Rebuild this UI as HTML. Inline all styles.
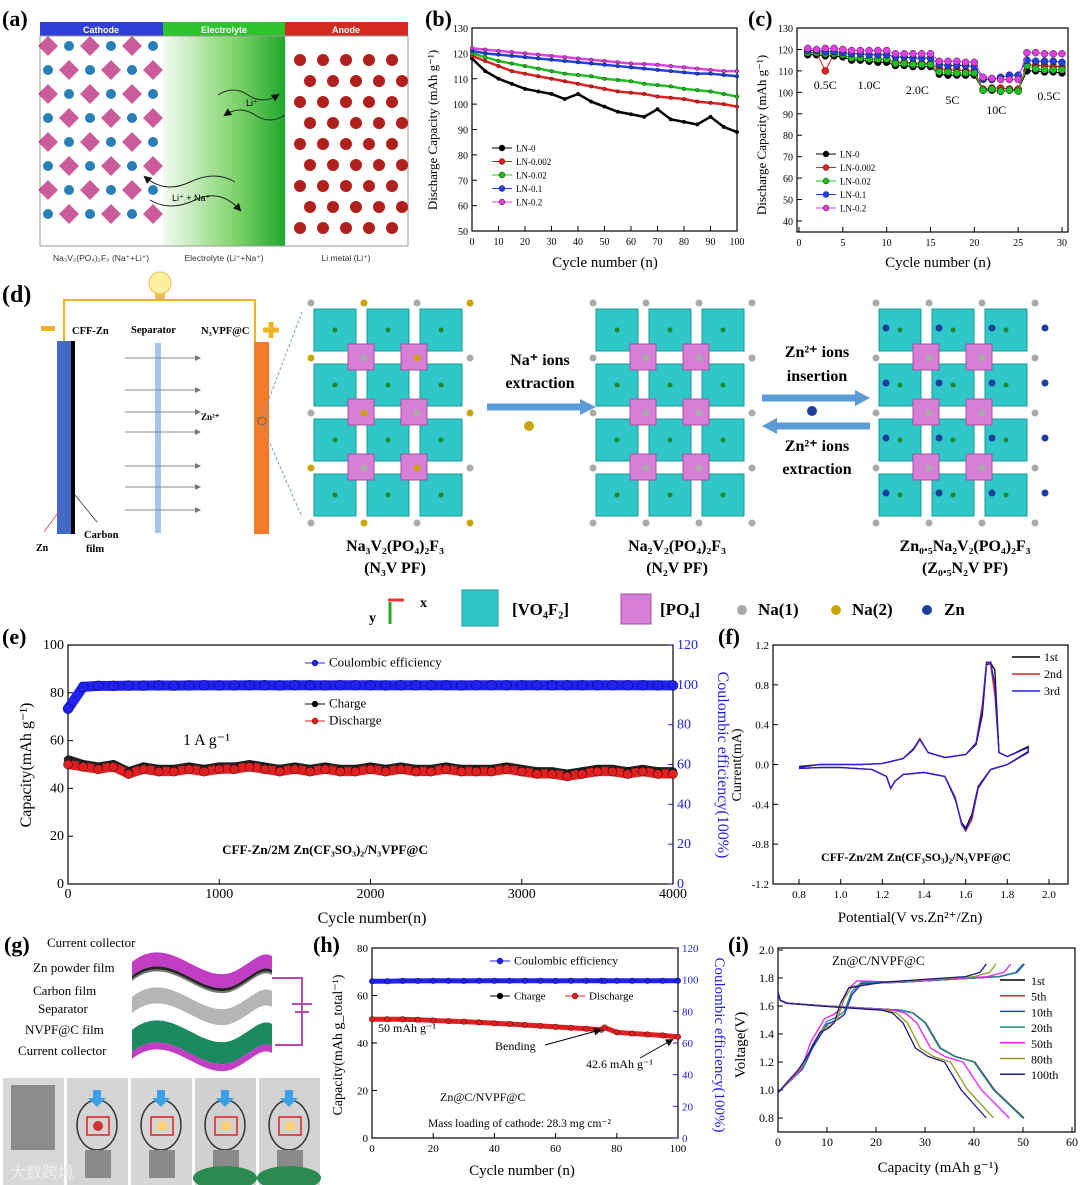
<!DOCTYPE html>
<html><head><meta charset="utf-8">
<style>
html,body{margin:0;padding:0;background:#fff}
svg{display:block;font-family:"Liberation Serif",serif}
.s{font-family:"Liberation Sans",sans-serif}
</style></head>
<body>
<svg id="fig" width="1080" height="1185" viewBox="0 0 1080 1185" xmlns="http://www.w3.org/2000/svg">
<defs>
<linearGradient id="gElec" x1="0" x2="1"><stop offset="0" stop-color="#f4fbf2"/><stop offset="0.6" stop-color="#7fd36a"/><stop offset="1" stop-color="#1fa82c"/></linearGradient>
<marker id="arr" markerWidth="6" markerHeight="6" refX="5" refY="3" orient="auto"><path d="M0,0L6,3L0,6z" fill="#777"/></marker>
<marker id="arrB" markerWidth="8" markerHeight="8" refX="6" refY="4" orient="auto"><path d="M0,0L8,4L0,8z" fill="#111"/></marker>
<marker id="arrY" markerWidth="6" markerHeight="6" refX="5" refY="3" orient="auto"><path d="M0,0L6,3L0,6z" fill="#f0a020"/></marker>
</defs>
<!-- panel a -->
<g>
<text x="2" y="26" font-size="22" font-weight="bold">(a)</text>
<rect x="40" y="22" width="123" height="14" fill="#2f3fd8"/>
<rect x="163" y="22" width="122" height="14" fill="#2ec42e"/>
<rect x="285" y="22" width="123" height="14" fill="#d42a22"/>
<text x="101" y="33" font-size="9" fill="#fff" text-anchor="middle" class="s" font-weight="bold">Cathode</text>
<text x="224" y="33" font-size="9" fill="#fff" text-anchor="middle" class="s" font-weight="bold">Electrolyte</text>
<text x="346" y="33" font-size="9" fill="#fff" text-anchor="middle" class="s" font-weight="bold">Anode</text>
<rect x="163" y="36" width="122" height="210" fill="url(#gElec)"/>
<rect x="40" y="36" width="368" height="210" fill="none" stroke="#999"/>
<g id="cathodeAtoms"></g>
<g id="anodeAtoms"></g>
<path d="M218,95 q15,-10 30,0 t30,0" fill="none" stroke="#222" marker-end="url(#arrB)"/>
<path d="M285,115 q-15,10 -30,0 t-30,0" fill="none" stroke="#222" marker-end="url(#arrB)"/>
<text x="246" y="106" font-size="9" class="s">Li⁺</text>
<path d="M235,182 q-20,-12 -45,0 t-45,-5" fill="none" stroke="#222" marker-end="url(#arrB)"/>
<path d="M150,200 q20,12 45,0 t45,10" fill="none" stroke="#222" marker-end="url(#arrB)"/>
<text x="172" y="201" font-size="9" class="s">Li⁺ + Na⁺</text>
<text x="101" y="261" font-size="8.5" class="s" text-anchor="middle" fill="#333">Na₃V₂(PO₄)₂F₃ (Na⁺+Li⁺)</text>
<text x="224" y="261" font-size="8.5" class="s" text-anchor="middle" fill="#333">Electrolyte (Li⁺+Na⁺)</text>
<text x="346" y="261" font-size="8.5" class="s" text-anchor="middle" fill="#333">Li metal (Li⁺)</text>
</g>
<!-- panel labels -->
<text x="425" y="26" font-size="22" font-weight="bold">(b)</text>
<text x="748" y="26" font-size="22" font-weight="bold">(c)</text>
<text x="2" y="302" font-size="24" font-weight="bold">(d)</text>
<text x="2" y="644" font-size="22" font-weight="bold">(e)</text>
<text x="718" y="644" font-size="22" font-weight="bold">(f)</text>
<text x="4" y="952" font-size="22" font-weight="bold">(g)</text>
<text x="313" y="952" font-size="22" font-weight="bold">(h)</text>
<text x="728" y="952" font-size="22" font-weight="bold">(i)</text>
<!-- panel d -->
<g>
<path d="M64,345 V300 H255 V345" fill="none" stroke="#f1b321" stroke-width="2"/>
<circle cx="160" cy="283" r="11" fill="#fbf0a0" stroke="#e8c050"/>
<rect x="155" y="293" width="10" height="6" fill="#e8c050"/>
<rect x="41" y="326" width="14" height="5" fill="#f1b321"/>
<path d="M263,330h16M271,322v16" stroke="#f1b321" stroke-width="5"/>
<text x="72" y="334" font-size="10.5" font-weight="bold">CFF-Zn</text>
<text x="131" y="333" font-size="10.5" font-weight="bold">Separator</text>
<text x="201" y="334" font-size="10.5" font-weight="bold">N₃VPF@C</text>
<rect x="57" y="341" width="14" height="193" fill="#4169c8"/>
<rect x="71" y="341" width="4" height="193" fill="#000"/>
<rect x="155" y="343" width="6" height="190" fill="#a8c6ec"/>
<rect x="254" y="342" width="15" height="192" fill="#f47b2a"/>
<g id="znArrows"></g>
<text x="201" y="420" font-size="9" font-weight="bold">Zn²⁺</text>
<circle cx="262" cy="421" r="4" fill="none" stroke="#666"/>
<path d="M262,417 L302,312 M262,425 L302,517" stroke="#7a9abf" stroke-dasharray="3,2" fill="none"/>
<line x1="60" y1="510" x2="44" y2="532" stroke="#d33" stroke-width="0.7"/>
<line x1="75" y1="495" x2="97" y2="522" stroke="#222" stroke-width="0.7"/>
<text x="36" y="551" font-size="10" font-weight="bold">Zn</text>
<text x="84" y="538" font-size="10.5" font-weight="bold">Carbon</text>
<text x="86" y="552" font-size="10.5" font-weight="bold">film</text>
<g id="lattices"></g>
<text x="395" y="551" font-size="16" font-weight="bold" text-anchor="middle">Na₃V₂(PO₄)₂F₃</text>
<text x="395" y="573" font-size="16" font-weight="bold" text-anchor="middle">(N₃V PF)</text>
<text x="677" y="551" font-size="16" font-weight="bold" text-anchor="middle">Na₂V₂(PO₄)₂F₃</text>
<text x="677" y="573" font-size="16" font-weight="bold" text-anchor="middle">(N₂V PF)</text>
<text x="965" y="551" font-size="16" font-weight="bold" text-anchor="middle">Zn₀.₅Na₂V₂(PO₄)₂F₃</text>
<text x="965" y="573" font-size="16" font-weight="bold" text-anchor="middle">(Z₀.₅N₂V PF)</text>
<text x="540" y="365" font-size="16" font-weight="bold" text-anchor="middle">Na⁺ ions</text>
<text x="540" y="388" font-size="16" font-weight="bold" text-anchor="middle">extraction</text>
<path d="M487,407 H583" stroke="#5b9bd5" stroke-width="7"/>
<path d="M580,399 L596,407 L580,415z" fill="#5b9bd5"/>
<circle cx="529" cy="426" r="5" fill="#c9a40a"/>
<text x="817" y="357" font-size="16" font-weight="bold" text-anchor="middle">Zn²⁺ ions</text>
<text x="817" y="381" font-size="16" font-weight="bold" text-anchor="middle">insertion</text>
<path d="M762,398 H857" stroke="#5b9bd5" stroke-width="7"/>
<path d="M855,390 L870,398 L855,406z" fill="#5b9bd5"/>
<circle cx="812" cy="411" r="5" fill="#1f3f9c"/>
<path d="M775,426 H870" stroke="#5b9bd5" stroke-width="7"/>
<path d="M777,418 L762,426 L777,434z" fill="#5b9bd5"/>
<text x="817" y="451" font-size="16" font-weight="bold" text-anchor="middle">Zn²⁺ ions</text>
<text x="817" y="474" font-size="16" font-weight="bold" text-anchor="middle">extraction</text>
<g>
<path d="M388,600 H404" stroke="#e33" stroke-width="3"/>
<path d="M390,602 V624" stroke="#2a2" stroke-width="3"/>
<text x="420" y="607" font-size="14" font-weight="bold">x</text>
<text x="369" y="622" font-size="14" font-weight="bold">y</text>
<rect x="462" y="590" width="36" height="36" fill="#2fc7c7" stroke="#1a9a9a"/>
<text x="512" y="615" font-size="17" font-weight="bold">[VO₄F₂]</text>
<rect x="621" y="594" width="30" height="30" fill="#d77ed6" stroke="#a050a0"/>
<text x="660" y="615" font-size="17" font-weight="bold">[PO₄]</text>
<circle cx="742" cy="610" r="5" fill="#aaa"/>
<text x="758" y="615" font-size="17" font-weight="bold">Na(1)</text>
<circle cx="836" cy="610" r="5" fill="#c9a40a"/>
<text x="852" y="615" font-size="17" font-weight="bold">Na(2)</text>
<circle cx="927" cy="610" r="5" fill="#1f3f9c"/>
<text x="944" y="615" font-size="17" font-weight="bold">Zn</text>
</g>
</g>
<!-- panel g -->
<g>
<g id="waves"></g>
<path d="M272,978 H302 V1045 H275" fill="none" stroke="#b44cb0" stroke-width="2"/>
<path d="M292,1004 h20 M295,1012 h14" stroke="#b44cb0" stroke-width="2"/>
<text x="47" y="947" font-size="13">Current collector</text>
<text x="33" y="972" font-size="13">Zn powder film</text>
<text x="33" y="995" font-size="13">Carbon film</text>
<text x="38" y="1013" font-size="13">Separator</text>
<text x="25" y="1034" font-size="13">NVPF@C film</text>
<text x="18" y="1055" font-size="13">Current collector</text>
<g id="photos"></g>
</g>
<g id="charts"></g>
</svg>
<script>
// ---------- data ----------
const bCycles=[0,5,10,15,20,25,30,35,40,45,50,55,60,65,70,75,80,85,90,95,100];
const bLN0=[118,113,110,108,106,105,104,102,104,101,99,97,96,95,98,94,93,92,95,91,89];
const bLN0002=[119,117,115,113,112,111,110,109,108,107,106,105,104.5,104,103,102.5,102,101,100.5,100,99];
const bLN002=[120,118.5,117,116,115,114,113,112,111.5,111,110,109.5,109,108,107.5,107,106,105.5,105,104,103];
const bLN01=[121,120,119.5,119,118.5,118,117.5,117,116.5,116,115.5,115,114.5,114,113.5,113,112.5,112,112,111.5,111];
const bLN02=[122,121.5,121,120.5,120,119.5,119,118.5,118,117.5,117,116.5,116,115.8,115.5,115,114.5,114,113.5,113,113];
const bNames=["LN-0","LN-0.002","LN-0.02","LN-0.1","LN-0.2"];
const cCycles=[1,2,3,4,5,6,7,8,9,10,11,12,13,14,15,16,17,18,19,20,21,22,23,24,25,26,27,28,29,30];
const cLN0=[117.5,117.5,117,117,116.5,115,115,114.5,114,114,112.5,112.5,112,112,112,108.5,108,108,108,108,101,101,100.5,101,101,110,110,109.5,109.5,109];
const cLN0002=[118.5,118.5,110,118,117.5,116,116,115.5,115.5,115.5,114,114,113.5,113.5,113.5,111,110.5,110.5,110,110,101.5,102,102,101.5,101.5,113,112.5,112.5,112,112];
const cLN002=[118.5,118.5,118,118,117.5,116,116,115.5,115.5,115.5,113.5,113.5,113,113,113,109.5,109.5,109,109,109,101,101.5,100.5,101,100.5,112.5,111,110.5,110.5,110.5];
const cLN01=[119.5,119.5,119,119,118.5,118,118,117.5,117.5,117.5,116.5,116.5,116,116,116,113,112.5,112.5,112.5,112,106,106,107,108,108,115,114.5,114.5,114.5,114];
const cLN02=[120.5,120,120.5,120.5,120,119.5,119.5,119.5,119.5,119.5,118,118,118,118,118,114.5,114.5,114.5,114,114,107,106.5,106,106,106,118.5,118.5,118,118,118];
const cRateLabels=["0.5C","1.0C","2.0C","5C","10C","0.5C"];
const eCycles=[0,100,200,300,400,500,600,700,800,900,1000,1100,1200,1300,1400,1500,1600,1700,1800,1900,2000,2100,2200,2300,2400,2500,2600,2700,2800,2900,3000,3100,3200,3300,3400,3500,3600,3700,3800,3900,4000];
const eCharge=[52,50,49,50,47,49,48,48,49,48,49,49,50,49,48,49,48,49,48,48,49,48,49,48,48,49,48,48,48,49,48,47,47,46,47,48,48,47,48,47,47];
const eDischarge=[50,49,48,49,46,48,47,47,48,47,48,48,49,48,47,48,47,48,47,47,48,47,48,47,47,48,47,47,47,48,47,46,46,45,46,47,47,46,47,46,46];
const eCE=[88,99,99.5,99.5,99.6,99.6,99.7,99.6,99.7,99.8,99.7,99.7,99.8,99.8,99.7,99.8,99.8,99.7,99.8,99.8,99.8,99.7,99.8,99.8,99.8,99.8,99.7,99.8,99.8,99.8,99.8,99.8,99.8,99.8,99.8,99.8,99.8,99.8,99.8,99.7,99.7];
const fV=[0.8,0.9,1.0,1.1,1.2,1.3,1.35,1.38,1.42,1.5,1.6,1.65,1.68,1.70,1.72,1.74,1.76,1.8,1.9,1.9,1.8,1.72,1.66,1.63,1.6,1.58,1.55,1.5,1.4,1.3,1.26,1.24,1.22,1.15,1.0,0.9,0.8];
const fI1=[-0.02,0.0,0.0,0.0,0.01,0.06,0.16,0.26,0.12,0.07,0.1,0.2,0.5,1.0,1.02,0.95,0.12,0.08,0.18,0.13,0.0,-0.05,-0.22,-0.5,-0.64,-0.58,-0.35,-0.12,-0.08,-0.1,-0.17,-0.24,-0.12,-0.05,-0.03,-0.03,-0.04];
const fI2=[-0.03,0.0,0.0,0.0,0.01,0.06,0.15,0.26,0.12,0.07,0.1,0.22,0.6,1.03,1.0,0.7,0.12,0.08,0.17,0.12,0.0,-0.05,-0.24,-0.55,-0.67,-0.6,-0.33,-0.12,-0.08,-0.1,-0.17,-0.24,-0.12,-0.05,-0.03,-0.03,-0.04];
const fI3=[-0.03,0.0,0.0,0.0,0.01,0.06,0.15,0.25,0.12,0.07,0.1,0.21,0.55,1.02,1.03,0.8,0.12,0.08,0.17,0.12,0.0,-0.05,-0.23,-0.52,-0.66,-0.59,-0.34,-0.12,-0.08,-0.1,-0.17,-0.24,-0.12,-0.05,-0.03,-0.03,-0.04];
const hCycles=[0,5,10,15,20,25,30,35,40,45,50,55,60,65,70,75,76,80,85,90,95,100];
const hCap=[50,50,50,49.8,49.5,49.2,49,48.7,48.3,48,47.6,47.2,46.8,46.4,46,45.6,46.5,44.5,44,43.6,43.2,42.6];
const hCE=[99,99,99.2,99.2,99.3,99.3,99.2,99.3,99.3,99.3,99.3,99.3,99.2,99.3,99.3,99.3,99.2,99.3,99.3,99.3,99.3,99.3];
const iLabels=["1st","5th","10th","20th","50th","80th","100th"];
const iChgCap=[50.2,50.1,50.3,50,47.5,44.5,42.5];
const iDisCap=[50.2,50.1,50,50,47.2,44,42.5];
const iChgFrac=[0,0.04,0.1,0.14,0.2,0.24,0.27,0.3,0.34,0.5,0.7,0.9,0.97,1];
const iChgV=[0.98,1.05,1.15,1.3,1.47,1.5,1.54,1.68,1.76,1.77,1.79,1.81,1.84,1.9];
const iDisFrac=[0,0.01,0.04,0.2,0.4,0.5,0.55,0.6,0.66,0.72,0.8,0.88,1];
const iDisV=[1.7,1.64,1.62,1.6,1.58,1.57,1.55,1.48,1.3,1.24,1.2,1.0,0.8];
const iShift=[0,0,0,0.02,0.04,-0.04,-0.06];

const NS="http://www.w3.org/2000/svg";
const root=document.getElementById('charts');
function mk(tag,attrs,parent){const el=document.createElementNS(NS,tag);for(const k in attrs)el.setAttribute(k,attrs[k]);(parent||root).appendChild(el);return el;}
function lin(d0,d1,r0,r1){return v=>r0+(v-d0)*(r1-r0)/(d1-d0);}
function txt(x,y,s,size,nm,extra,parent){const t=mk('text',Object.assign({x:x,y:y,'font-size':size},extra||{}),parent);t.textContent=s;


return t;}
function frame(x0,y0,x1,y1,nm){const r=mk('rect',{x:x0,y:y0,width:x1-x0,height:y1-y0,fill:'none',stroke:'#000','stroke-width':1.2});

}
function yTicks(sy,vals,x,side,fmt,size,color,nm){vals.forEach(v=>{const y=sy(v);const l=mk('line',{x1:x,x2:x+(side<0?5:-5),y1:y,y2:y,stroke:color||'#000'});


txt(side<0?x-4:x+4,y+4,fmt(v),size,nm+'-label',{'text-anchor':side<0?'end':'start',fill:color||'#000'});});}
function xTicks(sx,vals,y,fmt,size,nm){vals.forEach(v=>{const x=sx(v);const l=mk('line',{x1:x,x2:x,y1:y,y2:y-5,stroke:'#000'});


txt(x,y+14,fmt(v),size,nm+'-label',{'text-anchor':'middle'});});}
function line(xs,ys,sx,sy,color,w,nm){const p=mk('polyline',{points:xs.map((x,i)=>sx(x)+','+sy(ys[i])).join(' '),fill:'none',stroke:color,'stroke-width':w||1.2});

}
function dots(xs,ys,sx,sy,color,r,nm){xs.forEach((x,i)=>{const c=mk('circle',{cx:sx(x),cy:sy(ys[i]),r:r,fill:color,stroke:'#000','stroke-width':0.4});

});}
function legendDot(x,y,color,label,size,nm){const l=mk('line',{x1:x-10,x2:x+10,y1:y,y2:y,stroke:color});


const c=mk('circle',{cx:x,cy:y,r:3,fill:color,stroke:'#000','stroke-width':0.4});


txt(x+14,y+3.5,label,size,nm,{});}
const cols5=['#000','#e02020','#20c020','#2040e0','#e040e0'];
const dec=v=>v.toFixed(0);

// ---------- panel b ----------
{const sx=lin(0,100,472,737),sy=lin(50,130,231,28);
frame(472,28,737,231,'b-plot-frame');
yTicks(sy,[50,60,70,80,90,100,110,120,130],472,-1,dec,10,null,'b-y-tick');
xTicks(sx,[0,10,20,30,40,50,60,70,80,90,100],231,dec,10,'b-x-tick');
[bLN0,bLN0002,bLN002,bLN01,bLN02].forEach((s,k)=>{line(bCycles,s,sx,sy,cols5[k],2.5,'b-series-'+bNames[k]);dots(bCycles,s,sx,sy,cols5[k],1.8,'b-point');});
bNames.forEach((n,k)=>legendDot(502,148+k*13.5,cols5[k],n,9,'b-legend-'+k));
txt(437,130,'Discharge Capacity (mAh g⁻¹)',13,'b-y-title',{'text-anchor':'middle',transform:'rotate(-90 437 130)'});
txt(605,267,'Cycle number (n)',15,'b-x-title',{'text-anchor':'middle'});}
// ---------- panel c ----------
{const sx=lin(0,30,799,1062),sy=lin(40,130,221,28);
frame(797,28,1068,232,'c-plot-frame');
yTicks(sy,[40,50,60,70,80,90,100,110,120,130],797,-1,dec,10,null,'c-y-tick');
xTicks(sx,[0,5,10,15,20,25,30],232,dec,10,'c-x-tick');
[cLN0,cLN0002,cLN002,cLN01,cLN02].forEach((s,k)=>{line(cCycles,s,sx,sy,cols5[k],1,'c-series-'+bNames[k]);dots(cCycles,s,sx,sy,cols5[k],3.5,'c-point');});
bNames.forEach((n,k)=>legendDot(826,154+k*13.5,cols5[k],n,9,'c-legend-'+k));
const lp=[[3,82],[8,82],[13.5,87],[17.5,97],[22.5,107],[28.5,93]];
cRateLabels.forEach((l,k)=>txt(sx(lp[k][0]),lp[k][1]+7,l,12,'c-rate-label',{'text-anchor':'middle'}));
txt(766,135,'Discharge Capacity (mAh g⁻¹)',13,'c-y-title',{'text-anchor':'middle',transform:'rotate(-90 766 135)'});
txt(938,267,'Cycle number (n)',15,'c-x-title',{'text-anchor':'middle'});}
// ---------- panel e ----------
{const sx=lin(0,4000,68,673),sy=lin(0,100,884,645),sr=lin(0,120,884,645);
frame(68,645,673,884,'e-plot-frame');
yTicks(sy,[0,20,40,60,80,100],68,-1,dec,14,null,'e-y-tick');
yTicks(sr,[0,20,40,60,80,100,120],673,1,dec,14,'#2020e0','e-y2-tick');
xTicks(sx,[0,1000,2000,3000,4000],884,dec,14,'e-x-tick');
line(eCycles,eCharge,sx,sy,'#222',9,'e-charge-band');
line(eCycles,eDischarge,sx,sy,'#e02020',9,'e-discharge-band');
dots(eCycles,eCharge,sx,sy,'#222',4,'e-charge-point');
dots(eCycles,eDischarge,sx,sy,'#e02020',4.5,'e-discharge-point');
line(eCycles,eCE,sx,sr,'#2020f0',10,'e-ce-band');
dots(eCycles,eCE,sx,sr,'#2020f0',5,'e-ce-point');
legendDot(315,663,'#2020f0','Coulombic efficiency',13,'e-legend-ce');
legendDot(315,704,'#000','Charge',13,'e-legend-charge');
legendDot(315,721,'#e02020','Discharge',13,'e-legend-discharge');
txt(183,745,'1 A g⁻¹',16,'e-rate-label',{});
txt(325,854,'CFF-Zn/2M Zn(CF₃SO₃)₂/N₃VPF@C',13,'e-cell-label',{'text-anchor':'middle','font-weight':'bold'});
txt(31,765,'Capacity(mAh g⁻¹)',16,'e-y-title',{'text-anchor':'middle',transform:'rotate(-90 31 765)'});
txt(718,765,'Coulombic efficiency(100%)',16,'e-y2-title',{'text-anchor':'middle',fill:'#2020e0',transform:'rotate(90 718 765)'});
txt(372,923,'Cycle number(n)',16,'e-x-title',{'text-anchor':'middle'});}
// ---------- panel f ----------
{const sx=lin(0.8,2.0,799,1049),sy=lin(-1.2,1.2,884,645);
frame(773,645,1068,884,'f-plot-frame');
yTicks(sy,[-1.2,-0.8,-0.4,0.0,0.4,0.8,1.2],773,-1,v=>v.toFixed(1),11,null,'f-y-tick');
xTicks(sx,[0.8,1.0,1.2,1.4,1.6,1.8,2.0],884,v=>v.toFixed(1),11,'f-x-tick');
line(fV,fI1,sx,sy,'#000',1.3,'f-cv-1st');line(fV,fI2,sx,sy,'#e02020',1.3,'f-cv-2nd');line(fV,fI3,sx,sy,'#2020e0',1.3,'f-cv-3rd');
[['1st','#000'],['2nd','#e02020'],['3rd','#2020e0']].forEach((e,k)=>{const l=mk('line',{x1:1012,x2:1040,y1:657+k*17,y2:657+k*17,stroke:e[1],'stroke-width':1.5});


txt(1044,661+k*17,e[0],12,'f-legend-'+e[0],{});});
txt(916,861,'CFF-Zn/2M Zn(CF₃SO₃)₂/N₃VPF@C',12,'f-cell-label',{'text-anchor':'middle','font-weight':'bold'});
txt(741,765,'Current(mA)',14,'f-y-title',{'text-anchor':'middle',transform:'rotate(-90 741 765)'});
txt(910,922,'Potential(V vs.Zn²⁺/Zn)',15,'f-x-title',{'text-anchor':'middle'});}
// ---------- panel h ----------
{const sx=lin(0,100,372,678),sy=lin(0,80,1138,948),sr=lin(0,120,1138,948);
frame(372,948,678,1138,'h-plot-frame');
yTicks(sy,[0,20,40,60,80],372,-1,dec,11,null,'h-y-tick');
yTicks(sr,[0,20,40,60,80,100,120],678,1,dec,11,'#2020e0','h-y2-tick');
xTicks(sx,[0,20,40,60,80,100],1138,dec,11,'h-x-tick');
line(hCycles,hCap,sx,sy,'#e02020',5,'h-capacity-band');
dots(hCycles,hCap,sx,sy,'#e02020',2.8,'h-capacity-point');
line(hCycles,hCE,sx,sr,'#2020f0',5,'h-ce-band');
dots(hCycles,hCE,sx,sr,'#2020f0',2.8,'h-ce-point');
legendDot(500,961,'#2020f0','Coulombic efficiency',12,'h-legend-ce');
legendDot(500,996,'#000','Charge',11,'h-legend-charge');
legendDot(575,996,'#e02020','Discharge',11,'h-legend-discharge');
txt(378,1032,'50 mAh g⁻¹',12,'h-start-annot',{});
txt(495,1050,'Bending',12,'h-bending-annot',{});
txt(586,1068,'42.6 mAh g⁻¹',12,'h-end-annot',{});
const a1=mk('path',{d:'M545,1045 L600,1030',stroke:'#000',fill:'none','marker-end':'url(#arrB)'});


const a2=mk('path',{d:'M640,1058 L672,1040',stroke:'#000',fill:'none','marker-end':'url(#arrB)'});


txt(440,1101,'Zn@C/NVPF@C',12,'h-cell-label',{});
txt(428,1127,'Mass loading of cathode: 28.3 mg cm⁻²',11.5,'h-loading-label',{});
txt(342,1045,'Capacity(mAh g_total⁻¹)',14,'h-y-title',{'text-anchor':'middle',transform:'rotate(-90 342 1045)'});
txt(715,1045,'Coulombic efficiency(100%)',15,'h-y2-title',{'text-anchor':'middle',fill:'#2020e0',transform:'rotate(90 715 1045)'});
txt(522,1175,'Cycle number (n)',15,'h-x-title',{'text-anchor':'middle'});}
// ---------- panel i ----------
{const sx=lin(0,60,778,1072),sy=lin(0.7,2.0,1132,950);
frame(778,948,1075,1132,'i-plot-frame');
yTicks(sy,[0.8,1.0,1.2,1.4,1.6,1.8,2.0],778,-1,v=>v.toFixed(1),12,null,'i-y-tick');
xTicks(sx,[0,10,20,30,40,50,60],1132,dec,12,'i-x-tick');
const ic=['#000','#e02020','#2040e0','#20908a','#f020f0','#9a9a20','#1a1a8a'];
iLabels.forEach((n,k)=>{
line(iChgFrac.map(f=>f*iChgCap[k]),iChgV.map((v,j)=>v+(j>2&&j<9?iShift[k]*(j<8?1:0.5):0)),sx,sy,ic[k],1.3,'i-charge-'+n);
line(iDisFrac.map(f=>f*iDisCap[k]),iDisV,sx,sy,ic[k],1.3,'i-discharge-'+n);
const l=mk('line',{x1:1000,x2:1025,y1:980+k*15.7,y2:980+k*15.7,stroke:ic[k],'stroke-width':1.5});


txt(1031,985+k*15.7,n,12,'i-legend-'+n,{});});
txt(832,965,'Zn@C/NVPF@C',13,'i-cell-label',{});
txt(745,1045,'Voltage(V)',15,'i-y-title',{'text-anchor':'middle',transform:'rotate(-90 745 1045)'});
txt(938,1172,'Capacity (mAh g⁻¹)',15,'i-x-title',{'text-anchor':'middle'});}

// ---------- schematic decorations ----------
{const g=document.getElementById('cathodeAtoms');
for(let r=0;r<8;r++)for(let c=0;c<6;c++){const x=48+c*21,y=46+r*24;
if((r+c)%2===0){const d=mk('path',{d:`M${x},${y-10}L${x+10},${y}L${x},${y+10}L${x-10},${y}z`,fill:'#c2408a',opacity:0.85},g);

}
else{const c1=mk('circle',{cx:x,cy:y,r:5,fill:'#2a7fb8'},g);

}}
const a=document.getElementById('anodeAtoms');
for(let r=0;r<9;r++)for(let c=0;c<5;c++){const x=300+c*23+(r%2)*10,y=60+r*21;
const c2=mk('circle',{cx:x,cy:y,r:6,fill:'#b0201c'},a);

}
const za=document.getElementById('znArrows');
[358,390,412,432,466,487,510].forEach((y,k)=>{const l=mk('line',{x1:125,x2:200,y1:y,y2:y,stroke:'#888','marker-end':'url(#arr)'},za);

});
const L=document.getElementById('lattices');
[[335,'#c9a40a',1],[617,'#aaa',0],[900,'#1f3f9c',2]].forEach(([x0,ion,kind])=>{
for(let r=0;r<4;r++)for(let c=0;c<3;c++){const cx=x0+c*53,cy=330+r*55;
const s=mk('rect',{x:cx-21,y:cy-21,width:42,height:42,fill:'#2fc7c7',stroke:'#1a9a9a'},L);


const cc=mk('circle',{cx:cx,cy:cy,r:2.5,fill:'#1a8a2a'},L);

}
for(let r=0;r<3;r++)for(let c=0;c<2;c++){const cx=x0+26+c*53,cy=357+r*55;
const s=mk('rect',{x:cx-13,y:cy-13,width:26,height:26,fill:'#d77ed6',stroke:'#a050a0'},L);

}
for(let r=0;r<5;r++)for(let c=0;c<4;c++){const cx=x0-24+c*53,cy=303+r*55;
const b=mk('circle',{cx:cx,cy:cy,r:3.5,fill:(kind===1&&(r+c)%2)?ion:'#aaa'},L);


if(kind===2&&r<4){const z=mk('circle',{cx:cx+10,cy:cy+25,r:3.5,fill:ion},L);

}}});
// wavy layers
const W=document.getElementById('waves');
function wavePath(x0,y,t){
const top=`M${x0},${y} C${x0+40},${y-32} ${x0+70},${y+28} ${x0+105},${y+8} C${x0+120},${y} ${x0+130},${y-12} ${x0+140},${y-6}`;
const bot=`L${x0+140},${y-6+t} C${x0+130},${y-12+t} ${x0+120},${y+t} ${x0+105},${y+8+t} C${x0+70},${y+28+t} ${x0+40},${y-32+t} ${x0},${y+t} Z`;
return top+bot;}
[[132,962,14,'#c13ec4','top-current-collector'],[132,976,3,'#222','zn-powder-film'],[132,979,2,'#777','carbon-film-layer'],[132,997,16,'#b5b5b5','separator-layer'],[132,1030,22,'#1b8a60','nvpf-film'],[132,1052,7,'#c13ec4','bottom-current-collector']].forEach(([x,y,t,c,nm])=>{
const p=mk('path',{d:wavePath(x,y,t),fill:c},W);

});
const P=document.getElementById('photos');
[[3,'#d8d8d8'],[67,'#d4d4d4'],[131,'#d6d6d6'],[195,'#d0d0d0'],[259,'#d2d2d2']].forEach(([x,col],k)=>{
const r=mk('rect',{x:x,y:1078,width:61,height:107,fill:col},P);


if(k===0){const pad=mk('rect',{x:x+8,y:1085,width:44,height:65,fill:'#8c8c8c'},P);

}
else{
const w=mk('ellipse',{cx:x+30,cy:1125,rx:20,ry:25,fill:'none',stroke:'#333','stroke-width':1.5},P);


const box=mk('rect',{x:x+20,y:1117,width:22,height:18,fill:'none',stroke:'#d22','stroke-width':1.5},P);


const d=mk('circle',{cx:x+31,cy:1126,r:5,fill:k>1?'#ffd070':'#d03030'},P);


const ar=mk('path',{d:`M${x+26},1090h8v8h5l-9,9l-9,-9h5z`,fill:'#3aa0e8'},P);


const dev=mk('rect',{x:x+18,y:1150,width:26,height:28,fill:'#8a8a8a'},P);


if(k>=3){const gl=mk('ellipse',{cx:x+30,cy:1178,rx:32,ry:12,fill:'#2a8a50'},P);

}}});
txt(10,1178,'大数跨境',16,'watermark',{fill:'#eee',class:'s',style:'font-family:"Liberation Sans","Noto Sans CJK SC",sans-serif'},P);}
</script>
</body></html>
